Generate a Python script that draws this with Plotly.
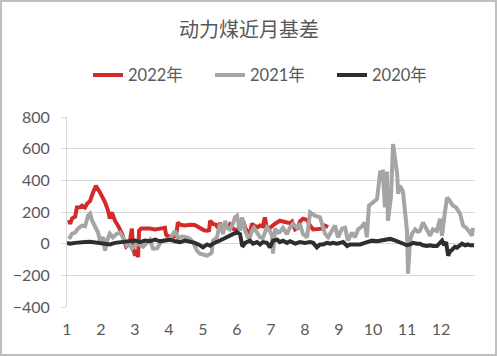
import plotly.graph_objects as go

# month position (1 = start of Jan, 13 = end of Dec) and basis values
x2022 = [1.06, 1.09, 1.15, 1.24, 1.29, 1.38, 1.44, 1.53, 1.59, 1.68, 1.76, 1.85, 1.97, 2.06, 2.12,
         2.21, 2.26, 2.32, 2.41, 2.50, 2.56, 2.62, 2.68, 2.74, 2.79, 2.85, 2.88, 2.91, 2.94, 3.00,
         3.06, 3.09, 3.12, 3.18, 3.44, 3.59, 3.74, 3.88, 3.91, 3.94, 4.09, 4.21, 4.26, 4.32, 4.47,
         4.62, 4.76, 4.91, 5.03, 5.12, 5.18, 5.21, 5.29, 5.38, 5.44, 5.50, 5.59, 5.65, 5.74, 5.79,
         5.88, 6.00, 6.09, 6.18, 6.24, 6.29, 6.38, 6.44, 6.47, 6.53, 6.62, 6.68, 6.76, 6.82, 6.88,
         6.97, 7.12, 7.26, 7.35, 7.47, 7.56, 7.62, 7.71, 7.79, 7.85, 7.94, 8.06, 8.15, 8.24, 8.38,
         8.50, 8.59, 8.68]
y2022 = [150, 125, 160, 170, 229, 230, 240, 229, 252, 270, 320, 366, 324, 290, 261,
         208, 158, 198, 145, 114, 90, 63, 20, -19, -10, 8, 60, 95, -20, -76,
         -40, -86, 82, 95, 95, 90, 95, 100, 60, 50, 40, 50, 134, 120, 115,
         120, 118, 100, 85, 82, 85, 145, 125, 120, 100, 130, 90, 110, 100, 120,
         95, 82, 110, 145, 100, 82, 63, 126, 120, 110, 105, 115, 110, 166, 95,
         100, 126, 145, 140, 135, 130, 140, 90, 100, 140, 157, 150, 114, 90, 92,
         95, 114, 105]

x2021 = [1.06, 1.15, 1.24, 1.32, 1.44, 1.53, 1.62, 1.68, 1.74, 1.82, 1.91, 1.97, 2.06, 2.12, 2.18,
         2.26, 2.35, 2.47, 2.56, 2.65, 2.76, 2.85, 2.91, 3.00, 3.09, 3.24, 3.35, 3.44, 3.53, 3.65,
         3.74, 3.82, 3.94, 4.03, 4.18, 4.26, 4.38, 4.53, 4.62, 4.71, 4.82, 4.91, 5.03, 5.12, 5.21,
         5.26, 5.29, 5.41, 5.50, 5.59, 5.65, 5.71, 5.79, 5.88, 5.94, 6.00, 6.06, 6.09, 6.15, 6.24,
         6.32, 6.38, 6.44, 6.50, 6.59, 6.68, 6.76, 6.88, 6.97, 7.03, 7.06, 7.12, 7.21, 7.26, 7.35,
         7.47, 7.56, 7.65, 7.76, 7.85, 7.94, 8.06, 8.15, 8.29, 8.44, 8.59, 8.68, 8.79, 8.88, 8.97,
         9.09, 9.18, 9.26, 9.38, 9.47, 9.56, 9.68, 9.76, 9.82, 9.88, 10.00, 10.12, 10.21, 10.29, 10.35,
         10.41, 10.44, 10.53, 10.59, 10.71, 10.74, 10.79, 10.88, 10.94, 11.00, 11.03, 11.09, 11.15, 11.24,
         11.32, 11.38, 11.47, 11.56, 11.68, 11.76, 11.88, 11.97, 12.03, 12.12, 12.18, 12.26, 12.35, 12.44,
         12.56, 12.65, 12.74, 12.85, 12.91, 12.94]
y2021 = [30, 63, 70, 95, 114, 110, 177, 190, 145, 114, 72, 19, 40, -44, 19,
         63, 40, 63, 70, 40, -13, -5, -32, -10, 0, -19, 10, 25, -32, -30,
         5, 19, 25, 30, 82, 35, 45, 40, 30, 10, -44, -63, -70, -76, -65,
         -55, 19, 40, 126, 60, 145, 100, 90, 126, 166, 177, 110, 82, 166, 80,
         40, 40, 82, 100, 70, 40, 35, 103, 80, 50, -63, 95, 70, 75, 100,
         60, 103, 126, 100, 126, 60, 40, 198, 177, 166, 63, 40, 80, 114, 40,
         95, 100, 19, 70, 40, 90, 110, 134, 40, 240, 261, 282, 450, 455, 229,
         455, 145, 300, 629, 441, 315, 366, 330, 200, 82, -190, 20, 63, 90,
         75, 80, 134, 100, 50, 90, 80, 158, 50, 208, 292, 270, 240, 230,
         190, 114, 100, 70, 50, 100]

x2020 = [1.00, 1.09, 1.24, 1.38, 1.53, 1.68, 1.82, 1.97, 2.12, 2.26, 2.41, 2.56, 2.71, 2.85, 3.00,
         3.15, 3.29, 3.44, 3.59, 3.74, 3.88, 4.03, 4.18, 4.32, 4.47, 4.62, 4.76, 4.91, 5.00, 5.12,
         5.21, 5.29, 5.41, 5.50, 5.59, 5.71, 5.79, 5.88, 6.00, 6.09, 6.15, 6.18, 6.24, 6.38, 6.47,
         6.59, 6.68, 6.76, 6.88, 6.97, 7.06, 7.18, 7.26, 7.35, 7.47, 7.56, 7.71, 7.85, 8.00, 8.15,
         8.24, 8.35, 8.44, 8.53, 8.65, 8.74, 8.82, 8.94, 9.03, 9.12, 9.24, 9.32, 9.47, 9.62, 9.76,
         9.85, 9.97, 10.12, 10.29, 10.41, 10.50, 10.59, 10.71, 10.79, 10.88, 11.00, 11.09, 11.18, 11.29,
         11.38, 11.47, 11.59, 11.68, 11.76, 11.88, 11.97, 12.03, 12.09, 12.15, 12.21, 12.26, 12.32, 12.41,
         12.47, 12.56, 12.62, 12.71, 12.79, 12.85, 12.97]
y2020 = [5, 0, 5, 5, 10, 12, 8, 0, -5, -5, 5, 10, 15, 15, 20,
         10, 20, 15, 25, 15, 20, 25, 15, 10, 20, 15, 5, -10, -23, -5,
         -13, 0, 15, 20, 30, 40, 50, 60, 72, 60, -10, -13, 5, 19, 0,
         10, -5, 10, 5, -23, 19, 25, 10, 19, 5, 15, 0, 10, 5, 10,
         5, -23, -5, -5, 5, 0, 5, 0, 5, 10, -15, -5, -5, -5, 5,
         10, 19, 15, 19, 25, 30, 25, 15, 5, -5, -10, -5, 5, 0,
         0, -10, -15, -10, -15, -15, 5, 19, -10, 10, -76, -50, -40, -20,
         -25, -10, 0, -10, -5, -10, -10]

series_names = ["2022年", "2021年", "2020年"]
series_colors = ["#d42a2a", "#a5a5a5", "#2e2e2e"]
month_ticks = list(range(1, 13))
month_labels = [str(m) for m in month_ticks]
y_ticks = [-400, -200, 0, 200, 400, 600, 800]
y_range = [-400, 800]
x_range = [1, 13]

fig = go.Figure()
for xs, ys, name, col in zip([x2022, x2021, x2020], [y2022, y2021, y2020], series_names, series_colors):
    fig.add_trace(go.Scatter(x=xs, y=ys, mode="lines", name=name,
                             line=dict(color=col, width=4)))

num_font = "Lato, 'Noto Sans CJK SC', sans-serif"
cjk_font = "'Noto Sans CJK SC', sans-serif"
grid = "#d9d9d9"
txt = "#595959"

fig.update_layout(
    width=498, height=356,
    margin=dict(l=67, r=23, t=117, b=49),
    paper_bgcolor="white", plot_bgcolor="white",
    title=dict(text="动力煤近月基差", x=0.5, xanchor="center", y=0.915, yanchor="middle",
               font=dict(family=cjk_font, size=20, color=txt)),
    legend=dict(orientation="h", x=0.5, xanchor="center", y=1.22, yanchor="middle",
                font=dict(family=num_font, size=16.5, color=txt),
                traceorder="normal", entrywidth=77, entrywidthmode="pixels"),
    showlegend=True,
    xaxis=dict(range=x_range, tickmode="array", tickvals=month_ticks, ticktext=month_labels,
               showgrid=False, zeroline=False, showline=False, ticks="",
               tickfont=dict(family=num_font, size=16, color=txt),
               ticklabelstandoff=11),
    xaxis2=dict(range=x_range, overlaying="x", anchor="free", position=1/3,
                tickmode="array", tickvals=month_ticks, showticklabels=False,
                ticks="outside", ticklen=5, tickcolor=grid, tickwidth=1,
                showline=True, linecolor=grid, linewidth=1, showgrid=False, zeroline=False),
    yaxis=dict(range=y_range, tickmode="array", tickvals=y_ticks,
               showgrid=True, gridcolor=grid, gridwidth=1,
               zeroline=False,
               showline=True, linecolor=grid, linewidth=1,
               ticks="outside", ticklen=5, tickcolor=grid,
               tickfont=dict(family=num_font, size=16, color=txt),
               ticklabelstandoff=8),
    shapes=[
        dict(type="rect", xref="paper", yref="paper",
             x0=-66/408, x1=1 + 21/408,
             y0=-48/190, y1=1 + 116/190,
             line=dict(color="#bfbfbf", width=2)),
    ],
)

fig.write_html("out.html", config={"displayModeBar": False},
               post_script="document.body.style.margin='0';document.body.style.overflow='hidden';")
